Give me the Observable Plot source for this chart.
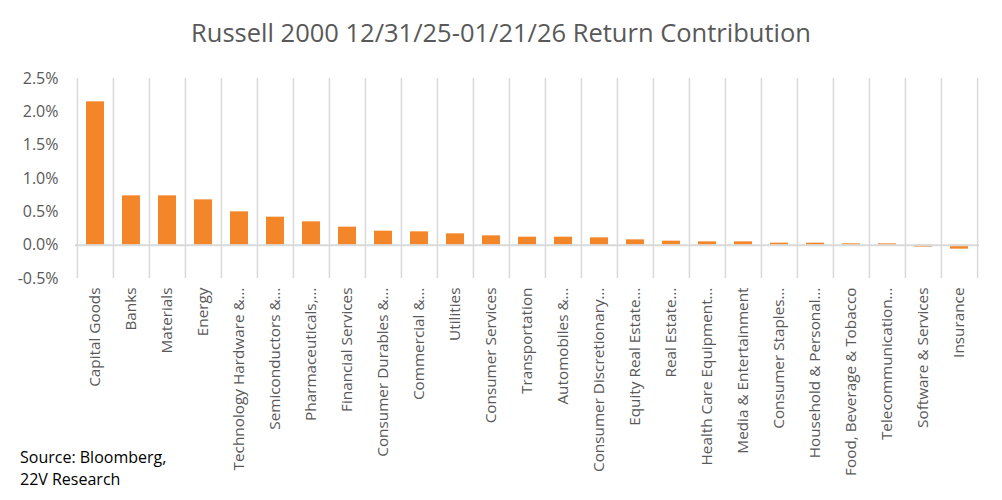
<!DOCTYPE html>
<html>
<head>
<meta charset="utf-8">
<script src="https://cdn.jsdelivr.net/npm/d3@7"></script>
<script src="https://cdn.jsdelivr.net/npm/@observablehq/plot@0.6"></script>
<style>
  html, body { margin: 0; padding: 0; background: #fff; }
  #wrap { position: relative; width: 1002px; height: 500px; overflow: hidden; font-family: "Open Sans", sans-serif; }
  #title { height: 60px; box-sizing: border-box; padding-top: 17px; text-align: center; font-size: 25.5px; color: #595959; line-height: 30px; }
  #caption { position: absolute; left: 20px; top: 446px; font-size: 16px; line-height: 22px; color: #000; }
  svg { display: block; }
</style>
</head>
<body>
<div id="wrap">
  <div id="title">Russell 2000 12/31/25-01/21/26 Return Contribution</div>
  <div id="chart"></div>
  <div id="caption">Source: Bloomberg,<br>22V Research</div>
</div>
<script>
const categories = [
  "Capital Goods", "Banks", "Materials", "Energy", "Technology Hardware &…",
  "Semiconductors &…", "Pharmaceuticals,…", "Financial Services", "Consumer Durables &…",
  "Commercial &…", "Utilities", "Consumer Services", "Transportation", "Automobiles &…",
  "Consumer Discretionary…", "Equity Real Estate…", "Real Estate…", "Health Care Equipment…",
  "Media & Entertainment", "Consumer Staples…", "Household & Personal…",
  "Food, Beverage & Tobacco", "Telecommunication…", "Software & Services", "Insurance"
];
const values = [
  0.0215, 0.0074, 0.0074, 0.0068, 0.0050,
  0.0042, 0.0035, 0.0027, 0.0021,
  0.0020, 0.0017, 0.0014, 0.0012, 0.0012,
  0.0011, 0.0008, 0.0006, 0.0005,
  0.0005, 0.0003, 0.0003,
  0.0002, 0.0002, -0.0003, -0.0006
];
const yDomain = [-0.005, 0.025];
const yTicks = [-0.005, 0, 0.005, 0.01, 0.015, 0.02, 0.025];

const data = categories.map((c, i) => ({category: c, value: values[i]}));

const W = 1002, H = 440, ML = 75, MR = 23, MT = 18, MB = 222;
const step = (W - ML - MR) / categories.length;
const grid = "#d9d9d9";
const txt = "#595959";

const chart = Plot.plot({
  width: W,
  height: H,
  marginLeft: ML,
  marginRight: MR,
  marginTop: MT,
  marginBottom: MB,
  style: {fontFamily: "Open Sans, sans-serif", background: "#fff"},
  x: {domain: categories, paddingInner: 0.5, paddingOuter: 0.25, label: null},
  y: {domain: yDomain, label: null},
  marks: [
    Plot.ruleX(categories, {x: d => d, dx: -step / 2, y1: yDomain[0], y2: yDomain[1], stroke: grid, strokeWidth: 1.5}),
    Plot.ruleX(categories.slice(-1), {x: d => d, dx: step / 2, y1: yDomain[0], y2: yDomain[1], stroke: grid, strokeWidth: 1.5}),
    Plot.barY(data, {x: "category", y: "value", fill: "#f4862a"}),
    Plot.ruleY([0], {stroke: grid, strokeWidth: 2}),
    Plot.axisY({ticks: yTicks, tickSize: 0, tickPadding: 17, fontSize: 16, fill: txt, tickFormat: d => (d * 100).toFixed(1) + "%", label: null}),
    Plot.axisX({tickSize: 0, tickPadding: 9, tickRotate: -90, fontSize: 15.3, fill: txt, label: null})
  ]
});
document.getElementById("chart").appendChild(chart);
</script>
</body>
</html>
